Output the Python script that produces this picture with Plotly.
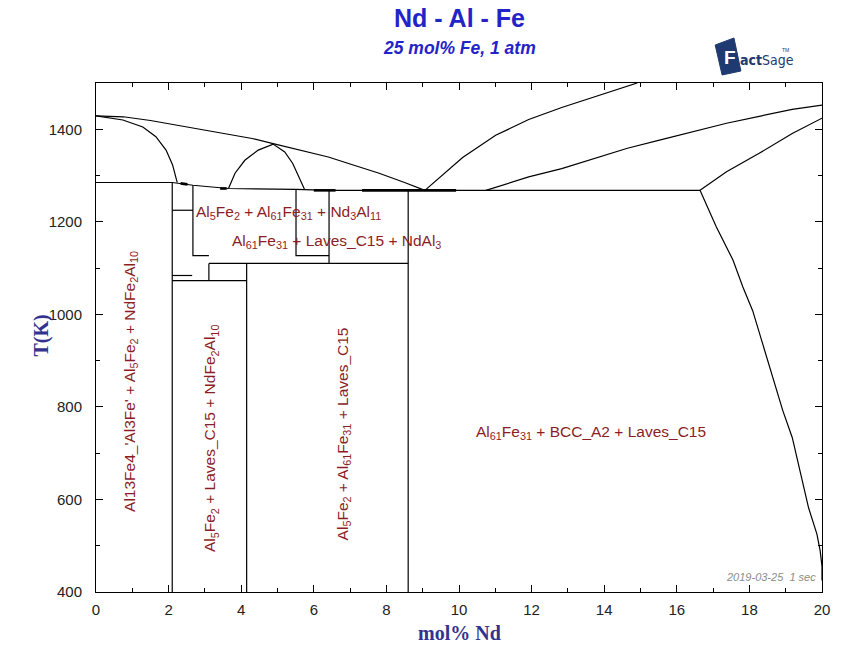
import plotly.graph_objects as go

# ---- phase boundaries: x = mol% Nd, T = temperature (K) ----
liquidus_x = [0, 0.75, 1.5, 2.5, 3.5, 4.3, 4.88, 5.5, 6.4, 7.0, 7.8, 8.5, 9.06]
liquidus_T = [1429, 1427, 1419, 1405, 1392, 1380, 1369, 1357, 1340, 1325, 1305, 1285, 1268]

left_dome_x = [0, 0.74, 1.29, 1.65, 1.93, 2.11, 2.22, 2.24]
left_dome_T = [1429, 1420, 1405, 1384, 1355, 1323, 1290, 1285]

mid_dome_x = [3.65, 3.83, 4.10, 4.47, 4.88, 5.20, 5.42, 5.60, 5.74]
mid_dome_T = [1272, 1305, 1333, 1355, 1368, 1351, 1326, 1297, 1271]

right_liq_x = [9.06, 10.10, 11.01, 11.92, 12.83, 13.73, 14.91]
right_liq_T = [1268, 1339, 1387, 1421, 1447, 1470, 1500]

upper_bcc_x = [10.74, 11.92, 12.83, 13.73, 14.64, 15.55, 16.46, 17.37, 18.27, 19.18, 20]
upper_bcc_T = [1268, 1297, 1315, 1337, 1359, 1377, 1395, 1413, 1428, 1443, 1452]

lower_bcc_x = [16.64, 17.37, 18.27, 19.18, 20]
lower_bcc_T = [1268, 1308, 1348, 1391, 1424]

solvus_x = [16.64, 17.09, 17.55, 17.82, 18.09, 18.36, 18.64, 18.92, 19.18, 19.63, 19.86, 19.95, 20, 20]
solvus_T = [1268, 1189, 1117, 1059, 1008, 936, 864, 792, 734, 582, 525, 489, 455, 425]

invariant_x = [0, 2.10, 2.67, 3.65, 5.51, 6.42, 16.64]
invariant_T = [1285, 1285, 1279, 1272, 1270, 1268, 1268]

# straight sub-solidus boundaries, each pair is (x list, T list)
boundary_x = [
    [2.10, 2.10], [2.67, 2.67, 3.11], [2.10, 2.67], [5.51, 5.51, 6.42],
    [6.42, 6.42], [8.60, 8.60], [3.11, 8.60], [3.11, 3.11],
    [2.10, 2.65], [2.10, 4.15], [4.15, 4.15],
]
boundary_T = [
    [1285, 400], [1279, 1127, 1127], [1225, 1225], [1270, 1127, 1127],
    [1268, 1110], [1268, 400], [1110, 1110], [1110, 1073],
    [1084, 1084], [1073, 1073], [1110, 400],
]

# overlapping invariant segments drawn heavier
heavy_x = [[2.33, 2.52], [3.42, 3.60], [6.0, 6.6], [7.33, 9.92]]
heavy_T = [[1283, 1281], [1272, 1272], [1268, 1268], [1268, 1268]]

# ---- region labels ----
label_text = [
    "Al13Fe4_'Al3Fe' + Al<sub>5</sub>Fe<sub>2</sub> + NdFe<sub>2</sub>Al<sub>10</sub>",
    "Al<sub>5</sub>Fe<sub>2</sub> + Laves_C15 + NdFe<sub>2</sub>Al<sub>10</sub>",
    "Al<sub>5</sub>Fe<sub>2</sub> + Al<sub>61</sub>Fe<sub>31</sub> + Laves_C15",
    "Al<sub>61</sub>Fe<sub>31</sub> + BCC_A2 + Laves_C15",
    "Al<sub>5</sub>Fe<sub>2</sub> + Al<sub>61</sub>Fe<sub>31</sub> + Nd<sub>3</sub>Al<sub>11</sub>",
    "Al<sub>61</sub>Fe<sub>31</sub> + Laves_C15 + NdAl<sub>3</sub>",
]
label_x = [0.95, 3.16, 6.81, 13.65, 5.30, 6.62]
label_T = [855, 732, 741, 745, 1221, 1158]
label_angle = [-90, -90, -90, 0, 0, 0]

x_range = [0, 20]
T_range = [400, 1500]

fig = go.Figure()


def add_line(xs, ts, width=1.2):
    fig.add_trace(go.Scatter(x=xs, y=ts, mode="lines",
                             line=dict(color="black", width=width),
                             hoverinfo="skip", showlegend=False))


for xs, ts in [(liquidus_x, liquidus_T), (left_dome_x, left_dome_T),
               (mid_dome_x, mid_dome_T), (right_liq_x, right_liq_T),
               (upper_bcc_x, upper_bcc_T), (lower_bcc_x, lower_bcc_T),
               (solvus_x, solvus_T), (invariant_x, invariant_T)]:
    add_line(xs, ts)

for xs, ts in zip(boundary_x, boundary_T):
    add_line(xs, ts)

for xs, ts in zip(heavy_x, heavy_T):
    add_line(xs, ts, width=2.6)

SANS = "Liberation Sans, Arial, sans-serif"
label_font = dict(family=SANS, size=15.5, color="#8b1e24")
for txt, lx, lt, ang in zip(label_text, label_x, label_T, label_angle):
    fig.add_annotation(x=lx, y=lt, xref="x", yref="y", text=txt, textangle=ang,
                       xanchor="center", yanchor="middle",
                       showarrow=False, font=label_font)

# pixel helpers for page furniture (plot area spans 96..830 x 83..592)
L, R, TOP, BOT = 96, 830, 83, 592


def px(v):
    return (v - L) / (R - L)


def py(v):
    return (BOT - v) / (BOT - TOP)


def note(x, y, text, font, xanchor="center", angle=0):
    fig.add_annotation(x=px(x), y=py(y), xref="paper", yref="paper", text=text,
                       xanchor=xanchor, yanchor="middle", textangle=angle,
                       showarrow=False, font=font)


title_blue = "#2323c8"
note(463, 18, "<b>Nd - Al - Fe</b>", dict(family=SANS, size=25, color=title_blue))
note(463, 48, "<b><i>25 mol% Fe, 1 atm</i></b>", dict(family=SANS, size=17.5, color=title_blue))

axis_title_font = dict(family="Liberation Serif, Times New Roman, serif", size=20, color="#33338f")
note(40, 336, "<b>T(K)</b>", axis_title_font, angle=-90)
note(463, 633, "<b>mol% Nd</b>", axis_title_font)

note(826, 577, "<i>2019-03-25  1 sec</i>",
     dict(family=SANS, size=11, color="#8c8c8c"), xanchor="right")

# FactSage logo
logo_navy = "#1e3a70"
logo_pts = [(722, 45), (741, 38), (748, 71), (729, 75)]
path = "M " + " L ".join(f"{px(a):.5f},{py(b):.5f}" for a, b in logo_pts) + " Z"
fig.add_shape(type="path", path=path, xref="paper", yref="paper", layer="below",
              fillcolor=logo_navy, line=dict(color=logo_navy, width=1))
note(737, 58, "<b>F</b>", dict(family=SANS, size=19, color="white"))
note(745, 60, "<b>act</b>Sage",
     dict(family="DejaVu Sans Condensed, Liberation Sans Narrow, Liberation Sans, Arial",
          size=14, color=logo_navy), xanchor="left")
note(788, 50, "TM", dict(family=SANS, size=5, color=logo_navy), xanchor="left")

tick_font = dict(family=SANS, size=15, color="#222222")
fig.update_xaxes(range=x_range, tick0=0, dtick=2, ticks="inside", ticklen=7,
                 tickcolor="black", mirror="allticks", showline=True, linecolor="black",
                 linewidth=1, showgrid=False, zeroline=False, tickfont=tick_font,
                 ticklabelstandoff=4,
                 minor=dict(ticks="inside", dtick=1, ticklen=4, tickcolor="black", showgrid=False))
fig.update_yaxes(range=T_range, tick0=400, dtick=200, ticks="inside", ticklen=7,
                 tickcolor="black", mirror="allticks", showline=True, linecolor="black",
                 linewidth=1, showgrid=False, zeroline=False, tickfont=tick_font,
                 ticklabelstandoff=10,
                 minor=dict(ticks="inside", dtick=100, ticklen=4, tickcolor="black", showgrid=False))

fig.update_layout(width=841, height=656, margin=dict(l=L, r=841 - R, t=TOP, b=656 - BOT),
                  plot_bgcolor="white", paper_bgcolor="white", showlegend=False)

fig.write_html("out.html")
